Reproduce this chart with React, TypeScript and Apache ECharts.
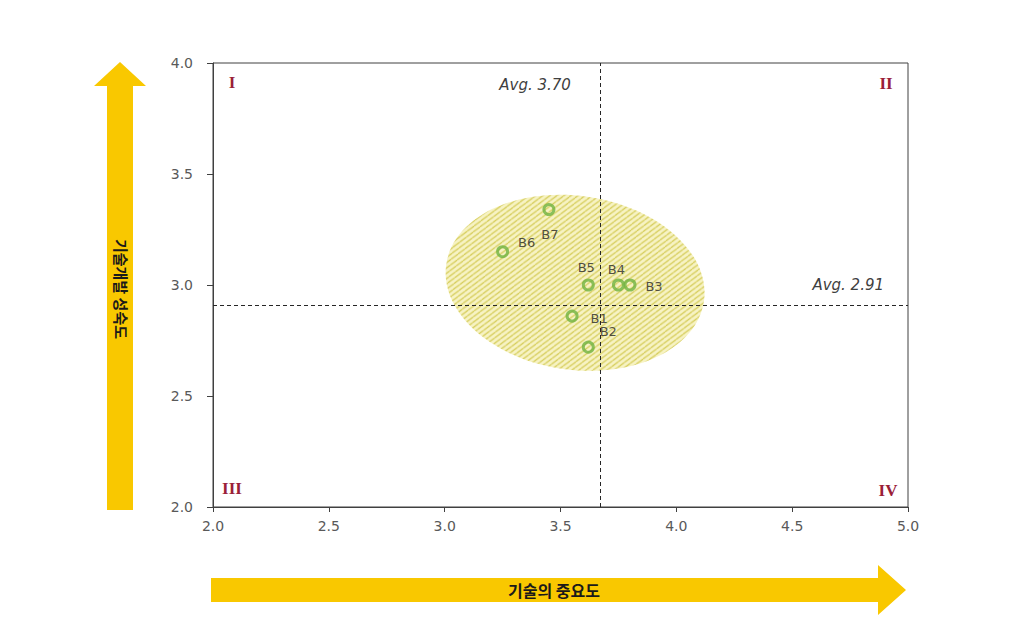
import React, { useEffect, useRef } from "react";
import * as echarts from "echarts";

const pointNames = ["B1", "B2", "B3", "B4", "B5", "B6", "B7"];
const importance = [3.55, 3.62, 3.8, 3.75, 3.62, 3.25, 3.45];
const maturity = [2.86, 2.72, 3.0, 3.0, 3.0, 3.15, 3.34];
const avgImportance = 3.67;
const avgImportanceLabel = "Avg. 3.70";
const avgMaturity = 2.91;
const avgMaturityLabel = "Avg. 2.91";
const xTicks = [2.0, 2.5, 3.0, 3.5, 4.0, 4.5, 5.0];
const yTicks = [2.0, 2.5, 3.0, 3.5, 4.0];
const quadrantLabels = ["I", "II", "III", "IV"];
const xAxisTitle = "기술의 중요도";
const yAxisTitle = "기술개발 성숙도";
// cluster ellipse: centre x, centre y, radius x, radius y (data units)
const clusterEllipse = [3.563, 3.01, 0.562, 0.392];

const labelOffsets: Record<string, number[]> = {
  B1: [27, 2],
  B2: [20, -16],
  B3: [24, 1],
  B4: [-2, -16],
  B5: [-2, -18],
  B6: [24, -9],
  B7: [1, 25],
};

function makeHatch(): HTMLCanvasElement {
  const c = document.createElement("canvas");
  c.width = 6;
  c.height = 6;
  const ctx = c.getContext("2d")!;
  ctx.fillStyle = "#f7f3c4";
  ctx.fillRect(0, 0, 6, 6);
  ctx.strokeStyle = "#d6cd5c";
  ctx.lineWidth = 1.3;
  for (let k = -6; k <= 12; k += 6) {
    ctx.beginPath();
    ctx.moveTo(k, 6);
    ctx.lineTo(k + 6, 0);
    ctx.stroke();
  }
  return c;
}

export default function App() {
  const ref = useRef<HTMLDivElement>(null);

  useEffect(() => {
    if (!ref.current) return;
    const chart = echarts.init(ref.current, null, { renderer: "svg" });
    const hatch = makeHatch();
    const pattern = {
      image: hatch.toDataURL(),
      repeat: "repeat",
      imageWidth: 6,
      imageHeight: 6,
    };

    const scatterData = pointNames.map((n, i) => ({
      name: n,
      value: [importance[i], maturity[i]],
      label: { offset: labelOffsets[n] },
    }));

    chart.setOption({
      animation: false,
      backgroundColor: "#ffffff",
      grid: {
        left: 213,
        top: 63,
        right: 109,
        bottom: 118,
        show: true,
        borderColor: "#404040",
        borderWidth: 1,
        backgroundColor: "transparent",
      },
      xAxis: {
        type: "value",
        min: xTicks[0],
        max: xTicks[xTicks.length - 1],
        interval: 0.5,
        axisLine: { show: true, lineStyle: { color: "#404040" } },
        axisTick: { show: true, length: 5, lineStyle: { color: "#404040" } },
        splitLine: { show: false },
        axisLabel: {
          color: "#595959",
          fontSize: 14,
          fontFamily: "DejaVu Sans",
          margin: 12,
          formatter: (v: number) => v.toFixed(1),
        },
      },
      yAxis: {
        type: "value",
        min: yTicks[0],
        max: yTicks[yTicks.length - 1],
        interval: 0.5,
        axisLine: { show: true, lineStyle: { color: "#404040" } },
        axisTick: { show: true, length: 6, lineStyle: { color: "#404040" } },
        splitLine: { show: false },
        axisLabel: {
          color: "#595959",
          fontSize: 14,
          fontFamily: "DejaVu Sans",
          margin: 20,
          formatter: (v: number) => v.toFixed(1),
        },
      },
      series: [
        {
          type: "custom",
          silent: true,
          z: 1,
          data: [clusterEllipse],
          renderItem: (params: any, api: any) => {
            const c = api.coord([api.value(0), api.value(1)]);
            const s = api.size([api.value(2), api.value(3)]);
            return {
              type: "ellipse",
              x: c[0],
              y: c[1],
              rotation: -0.14,
              shape: { cx: 0, cy: 0, rx: s[0], ry: s[1] },
              style: { fill: pattern, stroke: null },
            };
          },
        },
        {
          type: "scatter",
          z: 3,
          symbol: "circle",
          symbolSize: 10,
          itemStyle: {
            color: "rgba(255,255,255,0)",
            borderColor: "#6fb341",
            borderWidth: 3,
          },
          label: {
            show: true,
            position: "inside",
            formatter: "{b}",
            color: "#262626",
            fontSize: 13,
            fontFamily: "DejaVu Sans",
          },
          data: scatterData,
          markLine: {
            silent: true,
            symbol: "none",
            label: { show: false },
            lineStyle: { color: "#262626", type: [4, 3], width: 1 },
            data: [{ xAxis: avgImportance }, { yAxis: avgMaturity }],
          },
        },
      ],
    });

    const p = (x: number, y: number) =>
      chart.convertToPixel({ gridIndex: 0 }, [x, y]) as number[];
    const tl = p(xTicks[0], yTicks[yTicks.length - 1]);
    const br = p(xTicks[xTicks.length - 1], yTicks[0]);
    const vLine = p(avgImportance, yTicks[yTicks.length - 1]);
    const hLine = p(xTicks[xTicks.length - 1], avgMaturity);

    const romanStyle = {
      fill: "#9a2038",
      font: "bold 17px 'Liberation Serif', 'DejaVu Serif', serif",
      textAlign: "center",
      textVerticalAlign: "middle",
    };
    const avgStyle = {
      fill: "#404040",
      font: "italic 15px 'DejaVu Sans', sans-serif",
      textAlign: "right",
      textVerticalAlign: "middle",
    };
    const yellow = "#f9c800";

    chart.setOption({
      graphic: [
        { type: "text", x: tl[0] + 19, y: tl[1] + 19, style: { ...romanStyle, text: quadrantLabels[0] } },
        { type: "text", x: br[0] - 22, y: tl[1] + 20, style: { ...romanStyle, text: quadrantLabels[1] } },
        { type: "text", x: tl[0] + 19, y: br[1] - 19, style: { ...romanStyle, text: quadrantLabels[2] } },
        { type: "text", x: br[0] - 20, y: br[1] - 17, style: { ...romanStyle, text: quadrantLabels[3] } },
        { type: "text", x: vLine[0] - 29, y: vLine[1] + 22, style: { ...avgStyle, text: avgImportanceLabel } },
        { type: "text", x: hLine[0] - 24, y: hLine[1] - 20, style: { ...avgStyle, text: avgMaturityLabel } },
        {
          type: "polygon",
          shape: {
            points: [
              [107, 510],
              [107, 86],
              [94, 86],
              [120, 62],
              [146, 86],
              [133, 86],
              [133, 510],
            ],
          },
          style: { fill: yellow },
        },
        {
          type: "text",
          x: 121,
          y: 289,
          rotation: -Math.PI / 2,
          style: {
            text: yAxisTitle,
            fill: "#1a1a1a",
            font: "bold 15px 'Noto Sans CJK KR', sans-serif",
            textAlign: "center",
            textVerticalAlign: "middle",
          },
        },
        {
          type: "polygon",
          shape: {
            points: [
              [211, 578],
              [878, 578],
              [878, 565],
              [906, 590],
              [878, 615],
              [878, 602],
              [211, 602],
            ],
          },
          style: { fill: yellow },
        },
        {
          type: "text",
          x: 554,
          y: 590,
          style: {
            text: xAxisTitle,
            fill: "#1a1a1a",
            font: "bold 16px 'Noto Sans CJK KR', sans-serif",
            textAlign: "center",
            textVerticalAlign: "middle",
          },
        },
      ],
    });

    return () => chart.dispose();
  }, []);

  return (
    <div
      ref={ref}
      style={{ position: "absolute", left: 0, top: 0, width: 1017, height: 625 }}
    />
  );
}
